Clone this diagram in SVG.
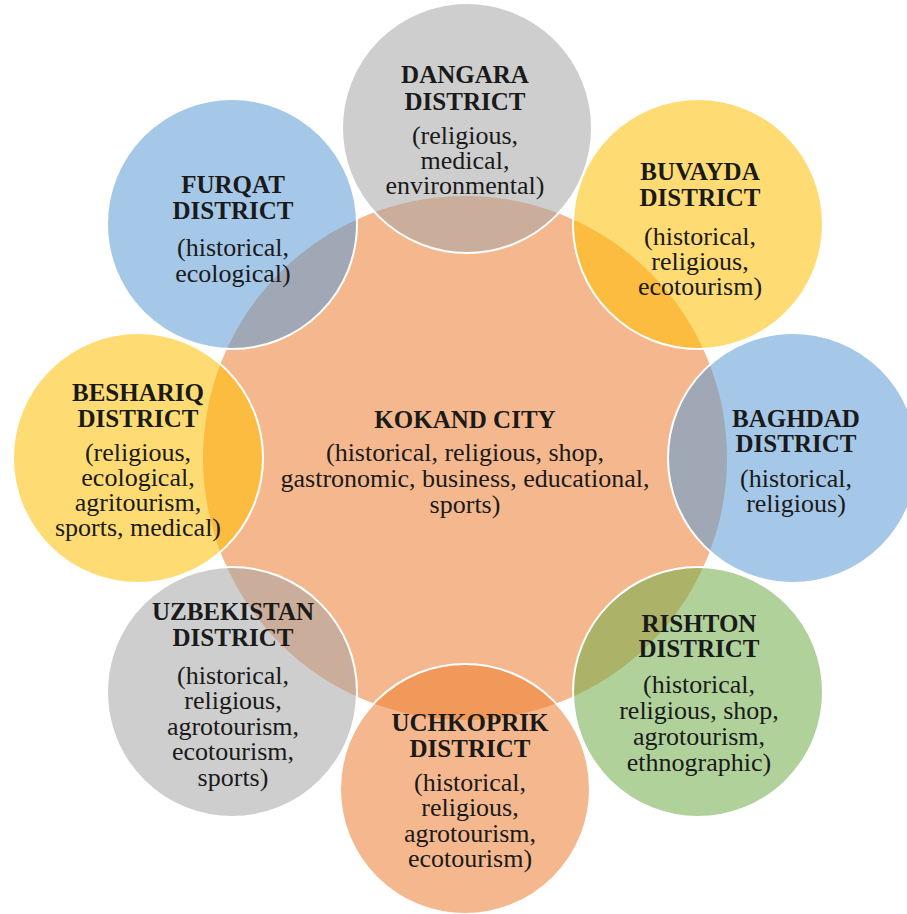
<svg xmlns="http://www.w3.org/2000/svg" width="907" height="914" viewBox="0 0 907 914">
  <style>
    .disc { stroke: #ffffff; stroke-width: 2; fill-opacity: 0.55; }
    .orange { fill: #ED7D31; }
    .gray { fill: #A5A5A5; }
    .gold { fill: #FFC000; }
    .blue { fill: #5B9BD5; }
    .green { fill: #70AD47; }
    text { font-family: "Liberation Serif", "Times New Roman", serif; fill: #1a1a1a; text-anchor: middle; }
    .title { font-size: 25px; font-weight: bold; }
    .desc { font-size: 26px; }
  </style>

  <rect width="907" height="914" fill="#ffffff"/>

  <!-- hub -->
  <g id="kokand">
    <circle class="disc orange" cx="465" cy="458" r="263"/>
  </g>

  <!-- satellite discs -->
  <g id="dangara">
    <circle class="disc gray" cx="467" cy="128" r="125"/>
  </g>
  <g id="buvayda">
    <circle class="disc gold" cx="698" cy="224" r="125"/>
  </g>
  <g id="baghdad">
    <circle class="disc blue" cx="793" cy="458" r="125"/>
  </g>
  <g id="rishton">
    <circle class="disc green" cx="698" cy="692" r="125"/>
  </g>
  <g id="uchkoprik">
    <circle class="disc orange" cx="465" cy="789" r="125"/>
  </g>
  <g id="uzbekistan">
    <circle class="disc gray" cx="232" cy="692" r="125"/>
  </g>
  <g id="beshariq">
    <circle class="disc gold" cx="138" cy="458" r="125"/>
  </g>
  <g id="furqat">
    <circle class="disc blue" cx="232" cy="224" r="125"/>
  </g>

  <!-- labels -->
  <g id="kokand-label">
    <text class="title" x="465" y="428">KOKAND CITY</text>
    <text class="desc" x="465" y="461">(historical, religious, shop,</text>
    <text class="desc" x="465" y="487">gastronomic, business, educational,</text>
    <text class="desc" x="465" y="513">sports)</text>
  </g>
  <g id="dangara-label">
    <text class="title" x="465" y="83">DANGARA</text>
    <text class="title" x="465" y="110">DISTRICT</text>
    <text class="desc" x="465" y="144">(religious,</text>
    <text class="desc" x="465" y="169">medical,</text>
    <text class="desc" x="465" y="194">environmental)</text>
  </g>
  <g id="buvayda-label">
    <text class="title" x="700" y="180">BUVAYDA</text>
    <text class="title" x="700" y="206">DISTRICT</text>
    <text class="desc" x="700" y="245">(historical,</text>
    <text class="desc" x="700" y="270">religious,</text>
    <text class="desc" x="700" y="295">ecotourism)</text>
  </g>
  <g id="baghdad-label">
    <text class="title" x="796" y="427">BAGHDAD</text>
    <text class="title" x="796" y="452">DISTRICT</text>
    <text class="desc" x="796" y="487">(historical,</text>
    <text class="desc" x="796" y="512">religious)</text>
  </g>
  <g id="rishton-label">
    <text class="title" x="699" y="632">RISHTON</text>
    <text class="title" x="699" y="657">DISTRICT</text>
    <text class="desc" x="699" y="693">(historical,</text>
    <text class="desc" x="699" y="719">religious, shop,</text>
    <text class="desc" x="699" y="745">agrotourism,</text>
    <text class="desc" x="699" y="771">ethnographic)</text>
  </g>
  <g id="uchkoprik-label">
    <text class="title" x="470" y="731">UCHKOPRIK</text>
    <text class="title" x="470" y="757">DISTRICT</text>
    <text class="desc" x="470" y="791">(historical,</text>
    <text class="desc" x="470" y="816">religious,</text>
    <text class="desc" x="470" y="842">agrotourism,</text>
    <text class="desc" x="470" y="867">ecotourism)</text>
  </g>
  <g id="uzbekistan-label">
    <text class="title" x="233" y="620">UZBEKISTAN</text>
    <text class="title" x="233" y="646">DISTRICT</text>
    <text class="desc" x="233" y="684">(historical,</text>
    <text class="desc" x="233" y="709">religious,</text>
    <text class="desc" x="233" y="735">agrotourism,</text>
    <text class="desc" x="233" y="760">ecotourism,</text>
    <text class="desc" x="233" y="786">sports)</text>
  </g>
  <g id="beshariq-label">
    <text class="title" x="138" y="401">BESHARIQ</text>
    <text class="title" x="138" y="427">DISTRICT</text>
    <text class="desc" x="138" y="461">(religious,</text>
    <text class="desc" x="138" y="486">ecological,</text>
    <text class="desc" x="138" y="511">agritourism,</text>
    <text class="desc" x="138" y="536">sports, medical)</text>
  </g>
  <g id="furqat-label">
    <text class="title" x="233" y="193">FURQAT</text>
    <text class="title" x="233" y="219">DISTRICT</text>
    <text class="desc" x="233" y="256">(historical,</text>
    <text class="desc" x="233" y="282">ecological)</text>
  </g>
</svg>
